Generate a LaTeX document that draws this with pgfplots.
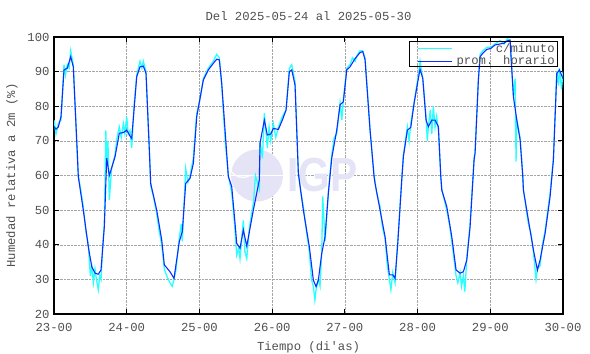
\documentclass[border=0pt]{standalone}
\usepackage{fontspec}
\newfontfamily\mono{Liberation Mono}
\newfontfamily\wmfont{Liberation Sans}
\usepackage{pgfplots}
\pgfplotsset{compat=1.18}
\definecolor{txt}{RGB}{80,80,80}
\definecolor{cyanline}{RGB}{40,255,255}
\definecolor{hblue}{RGB}{20,40,255}
\definecolor{wm}{RGB}{228,228,246}
\begin{document}
\mono
\begin{tikzpicture}
\useasboundingbox (-54bp,-40bp) rectangle (536bp,314bp);
\begin{axis}[
  at={(0,0)}, anchor=south west, scale only axis,
  width=509bp, height=277bp,
  xmin=0, xmax=168, ymin=20, ymax=100,
  xtick={0,24,48,72,96,120,144,168},
  xticklabels={23-00,24-00,25-00,26-00,27-00,28-00,29-00,30-00},
  ytick={20,30,40,50,60,70,80,90,100},
  /pgf/number format/assume math mode=true,
  grid=major,
  major grid style={densely dotted, black!35, line width=0.5pt},
  tick align=inside, major tick length=5bp,
  tick style={black, line width=0.9pt},
  axis line style={black, line width=1.2pt},
  tick label style={font=\mono\fontsize{12.3}{13}\selectfont, text=txt},
  xticklabel style={yshift=-6bp},
  yticklabel style={xshift=-1bp},
  label style={font=\mono\fontsize{12.3}{13}\selectfont, text=txt},
  xlabel style={yshift=-3bp},
  ylabel style={yshift=3bp},
  xlabel={Tiempo (di'as)},
  ylabel={Humedad relativa a 2m (\%)},
  title={Del 2025-05-24 al 2025-05-30},
  title style={font=\mono\fontsize{12.3}{13}\selectfont, text=txt, at={(0.5,1)}, anchor=base, yshift=11bp},
]
% watermark
\fill[wm] (axis cs:67,60) circle [radius=26bp];
\draw[white, line width=1.2pt] (axis cs:60,67) arc[start angle=120, end angle=300, radius=14bp];
\draw[white, line width=1.2pt] (axis cs:56,60) -- (axis cs:78,60);
\node[wm, font=\wmfont\bfseries\fontsize{48}{48}\selectfont, xscale=0.85] at (axis cs:88.5,60) {IGP};

\addplot[color=cyanline, line width=1.3pt, forget plot] coordinates {
(0,76) (0.66,72) (1.42,75) (2.31,76) (3.3,92) (3.8,89) (4.39,92) (5,91) (5.51,96) (6.37,92)
(7.69,66) (8.02,60) (8.8,56) (9.67,51) (10.5,44) (11.33,40) (12.0,31) (12.45,34) (13,29)
(13.53,33) (14,30) (14.62,27) (15.1,31) (15.52,30) (16.1,40) (16.61,46) (17.1,73) (17.4,63)
(17.8,70) (18.26,53) (19,62) (20.14,66) (20.8,71) (21.56,74) (22.2,71) (22.88,75) (23.4,72)
(24.0,77) (24.5,72) (25.09,73) (25.65,68) (26.4,80) (27.3,89) (28.39,93) (29,91) (29.48,93)
(30.37,90) (31.46,68) (31.92,57) (32.8,54) (33.9,49) (34.7,44) (35.55,40) (36.41,33) (37.2,31)
(38.29,29) (39,28) (39.61,30) (40.3,33) (41.36,42) (42,46) (42.35,41) (43.47,62) (44.2,58)
(44.9,60) (45.99,65) (47.11,78) (48.2,82) (49.29,88) (50.94,91) (52.59,93) (53.71,95) (54.57,94)
(55.36,86) (56.5,70) (57.54,60) (58.66,55) (59.2,50) (59.75,44) (60.31,37) (61,39) (61.4,36)
(62.49,47) (63,38) (63.62,36) (64.5,45) (65.79,52) (66.5,60) (67.77,56) (68.0,70) (68.8,65)
(69.42,78) (70.41,68) (71,74) (71.54,70) (72.4,75) (73.2,71) (74.05,74) (75.37,77) (76.59,79)
(77.68,91) (78.47,92) (79.56,87) (80.65,61) (81.5,55) (82.3,51) (83.3,44) (84.28,38) (85,30)
(85.6,28) (86.1,24) (86.49,27) (87.25,30) (87.8,28) (88.37,38) (88.7,54) (89.46,41) (90.55,55)
(91.67,66) (92.5,71) (93.32,72) (94.41,81) (95,76) (95.5,82) (96.63,91) (97.72,92) (98.5,94)
(99.37,93) (100.2,95) (101.02,96) (101.91,96) (102.67,94) (104.32,73) (105.64,60) (106.5,55)
(107.62,51) (108.4,45) (109.27,42) (110,34) (110.69,30) (111.2,27) (111.81,32) (112.57,29)
(113.46,41) (114.78,59) (115.31,66) (116,70) (116.63,74) (117.2,70) (117.76,75) (118.84,81)
(120.26,89) (120.82,93) (121.72,88) (122.8,77) (123.2,70) (123.56,74) (124.2,79) (124.69,72)
(125.2,80) (125.78,74) (126.3,77) (126.87,73) (127.66,60) (127.99,56) (128.8,53) (129.64,50)
(130.5,46) (131.29,41) (132,36) (132.71,31) (133.3,29) (134.03,32) (134.5,28) (135.12,31)
(135.6,26.5) (136.24,36) (137.33,46) (138.65,65) (138.98,67) (140.07,88) (140.63,95) (141.52,96)
(142.84,97) (144.16,97) (145.58,98) (147.23,99) (148.55,98) (149.64,99.5) (150.53,99) (151.63,83)
(152.2,88) (152.5,64) (152.75,76) (153.84,71) (154.73,60) (154.93,56) (156.58,46) (157.5,43)
(158.23,38) (159.1,30) (159.55,33) (160.44,34) (161.2,40) (162.09,44) (163.74,55) (164.83,65)
(165.95,90) (166.5,86) (166.81,91) (167.5,85) (168,90)
};
\addplot[color=hblue, line width=1.1pt, forget plot] coordinates {
(0,74.1) (0.66,73.4) (1.42,74) (2.31,77) (3.3,90.5) (4.39,91) (5.51,94.3) (6.37,91.4)
(7.69,66.5) (8.02,59.7) (9.67,50) (11.33,39.4) (12.45,33.7) (13.53,31.8) (14.62,31.5)
(15.52,32.7) (16.61,45.2) (17.4,65) (18.26,60) (20.14,65.4) (21.56,72.2) (22.88,72.4)
(24.0,73.1) (25.09,71.4) (25.65,70.7) (27.3,88.5) (28.39,91.4) (29.48,91.6) (30.37,89.5)
(31.46,67.4) (31.92,57.7) (33.9,50) (35.55,41.4) (36.41,34.2) (38.29,32.2) (39.61,30.3)
(41.36,40.9) (42.35,43.8) (43.47,57.7) (44.9,59.2) (45.99,63.5) (47.11,77) (49.29,87.6)
(50.94,90.5) (52.59,92.4) (53.71,93.6) (54.57,93.4) (55.36,86.6) (57.54,59.7) (58.66,56.8)
(59.75,46.2) (60.31,40.4) (61.4,39) (62.49,44.3) (63.62,39.6) (65.79,50) (67.77,58.7)
(68.0,69.3) (69.42,76) (70.41,71.7) (71.54,72) (72.4,73.6) (74.05,73.3) (75.37,76)
(76.59,78.9) (77.68,90) (78.47,90.5) (79.56,86.1) (80.65,60.6) (82.3,50) (84.28,39.4)
(85.6,29.8) (86.49,27.9) (87.25,29.8) (88.37,37.5) (89.46,42.3) (90.55,54.9) (91.67,65)
(93.32,73.1) (94.41,80.4) (95.5,81.3) (96.63,90.5) (97.72,91.4) (99.37,93.8) (101.02,95.5)
(101.91,95.8) (102.67,93.4) (104.32,73.1) (105.64,59.7) (105.97,57.7) (107.62,50) (109.27,42.3)
(110.69,31.3) (111.81,31.3) (112.57,30.3) (113.46,40.4) (114.78,58.7) (115.31,65.4) (116.63,73.1)
(117.76,73.9) (118.84,80.8) (120.26,88) (120.82,90.7) (121.72,88) (122.8,76) (123.56,74.1)
(124.69,76) (125.78,76) (126.87,74.1) (127.66,59.7) (127.99,55.8) (129.64,51) (131.29,42.3)
(132.71,32.7) (134.03,31.8) (135.12,32.2) (136.24,35.6) (137.33,45.2) (138.65,64.5) (138.98,66.4)
(140.07,87.6) (140.63,94.3) (141.52,95.3) (142.84,96.4) (144.16,96.7) (145.58,97.7) (147.23,98)
(148.55,98.2) (149.64,98.9) (150.53,99.1) (151.63,82.8) (152.75,76) (153.84,70.3) (154.73,59.7)
(154.93,55.8) (156.58,47.1) (158.23,38.5) (159.55,32.7) (160.44,35.6) (162.09,43.3) (163.74,53.9)
(164.83,64.5) (165.95,89.5) (166.81,90.5) (168,88)
};
% legend drawn by hand
\draw[black, line width=0.6pt] (axis description cs:0.699,0.895) rectangle (axis description cs:0.988,0.9856);
\draw[cyanline, line width=0.8pt] (axis description cs:0.715,0.960) -- (axis description cs:0.782,0.960);
\draw[hblue, line width=1.1pt] (axis description cs:0.715,0.913) -- (axis description cs:0.782,0.913);
\node[anchor=east, text=txt, font=\mono\fontsize{12.3}{13}\selectfont, inner sep=0pt] at (axis description cs:0.984,0.960) {c/minuto};
\node[anchor=east, text=txt, font=\mono\fontsize{12.3}{13}\selectfont, inner sep=0pt] at (axis description cs:0.984,0.913) {prom. horario};
\end{axis}
\end{tikzpicture}
\end{document}
